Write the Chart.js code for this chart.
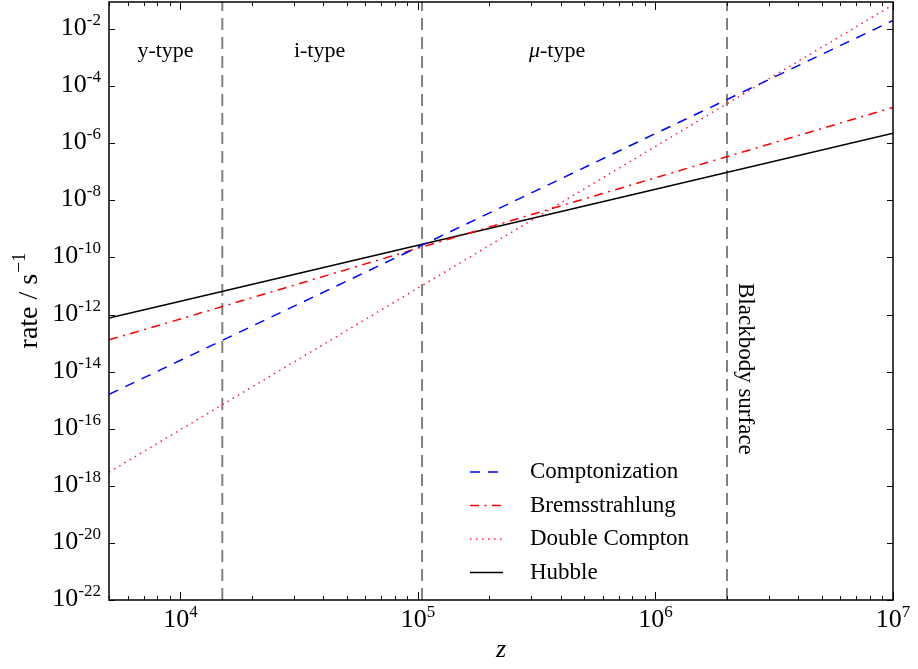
<!DOCTYPE html>
<html>
<head>
<meta charset="utf-8">
<script src="https://cdn.jsdelivr.net/npm/chart.js@4"></script>
<style>
    html, body { margin: 0; padding: 0; background: #fff; }
    #wrap { width: 918px; height: 669px; }
</style>
</head>
<body>
<div id="wrap"><canvas id="rates" width="918" height="669"></canvas></div>
<script>
// redshift samples (all rates are power laws, so a few points per curve)
const zPoints = [5000, 1e4, 1e5, 1e6, 1e7]

// rates in 1/s
const comptonization = [1.6e-15, 2.5e-14, 2.3e-10, 2.2e-6, 2.0e-2]
const bremsstrahlung = [1.3e-13, 7.0e-13, 2.1e-10, 6.2e-8, 1.8e-5]
const doubleCompton  = [3.0e-18, 9.3e-17, 8.5e-12, 7.8e-7, 7.1e-2]
const hubble         = [7.6e-13, 2.95e-12, 2.7e-10, 2.45e-8, 2.24e-6]

// era boundaries
const boundaries = [1.5e4, 1.04e5, 2e6]
const eraNames   = ['y-type', 'i-type', 'type']
const eraCenters = [8650, 3.85e4, 3.85e5]

const xTickExps = [4, 5, 6, 7]
const yTickExps = [-22, -20, -18, -16, -14, -12, -10, -8, -6, -4, -2]

const zMin = 5000, zMax = 1e7
const rateMin = 1e-22, rateMax = Math.pow(10, -1.05)

const SERIF = '"Liberation Serif", "DejaVu Serif", serif'

const series = [
    { label: 'Comptonization', data: comptonization, color: '#0000ff', dash: [10, 8] },
    { label: 'Bremsstrahlung', data: bremsstrahlung, color: '#ff0000', dash: [9, 5.5, 2, 5.5] },
    { label: 'Double Compton', data: doubleCompton,  color: '#ff1a3c', dash: [1.5, 4.5] },
    { label: 'Hubble',         data: hubble,         color: '#000000', dash: [] },
]

const datasets = series.map(s => ({
    label: s.label,
    data: zPoints.map((z, i) => ({ x: z, y: s.data[i] })),
    borderColor: s.color,
    borderDash: s.dash,
    borderWidth: 1.5,
    showLine: true,
    pointRadius: 0,
    fill: false,
}))

for (const b of boundaries) {
    datasets.push({
        label: 'boundary',
        data: [{ x: b, y: rateMin }, { x: b, y: rateMax }],
        borderColor: '#808080',
        borderDash: [12, 7],
        borderWidth: 2,
        showLine: true,
        pointRadius: 0,
    })
}

function drawPower(ctx, exp, x, y, align) {
    const base = '10', sup = String(exp)
    ctx.font = `26px ${SERIF}`
    const wb = ctx.measureText(base).width
    ctx.font = `17px ${SERIF}`
    const ws = ctx.measureText(sup).width
    let x0 = x
    if (align === 'right') x0 = x - wb - ws
    if (align === 'center') x0 = x - (wb + ws) / 2
    ctx.textAlign = 'left'
    ctx.textBaseline = 'alphabetic'
    ctx.font = `26px ${SERIF}`
    ctx.fillText(base, x0, y)
    ctx.font = `17px ${SERIF}`
    ctx.fillText(sup, x0 + wb, y - 10)
}

const axesPlugin = {
    id: 'axesPlugin',
    afterDraw(chart) {
        const { ctx, chartArea: a, scales: { x, y } } = chart
        ctx.save()
        ctx.fillStyle = '#000'
        ctx.strokeStyle = '#000'

        // frame
        ctx.lineWidth = 1.5
        ctx.strokeRect(a.left, a.top, a.right - a.left, a.bottom - a.top)

        // x ticks, inward on bottom and top
        ctx.lineWidth = 1
        for (let d = 3; d <= 7; d++) {
            for (let m = 1; m <= 9; m++) {
                const v = m * Math.pow(10, d)
                if (v < zMin || v > zMax) continue
                const px = Math.round(x.getPixelForValue(v)) + 0.5
                const len = m === 1 ? 8 : 4
                ctx.beginPath()
                ctx.moveTo(px, a.bottom); ctx.lineTo(px, a.bottom - len)
                ctx.moveTo(px, a.top);    ctx.lineTo(px, a.top + len)
                ctx.stroke()
            }
        }
        // y ticks, inward on left and right
        for (const e of yTickExps) {
            const py = Math.round(y.getPixelForValue(Math.pow(10, e))) + 0.5
            ctx.beginPath()
            ctx.moveTo(a.left, py);  ctx.lineTo(a.left + 6, py)
            ctx.moveTo(a.right, py); ctx.lineTo(a.right - 6, py)
            ctx.stroke()
        }

        // tick labels
        for (const e of xTickExps) {
            drawPower(ctx, e, x.getPixelForValue(Math.pow(10, e)), a.bottom + 27, 'center')
        }
        for (const e of yTickExps) {
            drawPower(ctx, e, a.left - 8, y.getPixelForValue(Math.pow(10, e)) + 6, 'right')
        }

        // axis titles
        ctx.font = `italic 26px ${SERIF}`
        ctx.textAlign = 'center'
        ctx.fillText('z', (a.left + a.right) / 2, 657)

        ctx.save()
        ctx.translate(37, (a.top + a.bottom) / 2)
        ctx.rotate(-Math.PI / 2)
        ctx.font = `28px ${SERIF}`
        const main = 'rate / s'
        const wm = ctx.measureText(main).width
        ctx.font = `19px ${SERIF}`
        const wsup = ctx.measureText('\u22121').width
        ctx.textAlign = 'left'
        ctx.font = `28px ${SERIF}`
        ctx.fillText(main, -(wm + wsup) / 2, 0)
        ctx.font = `19px ${SERIF}`
        ctx.fillText('\u22121', -(wm + wsup) / 2 + wm + 1, -12)
        ctx.restore()

        // era labels
        ctx.textAlign = 'center'
        eraNames.forEach((name, i) => {
            const cx = x.getPixelForValue(eraCenters[i])
            if (i === 2) {
                ctx.font = `italic 22px ${SERIF}`
                const wmu = ctx.measureText('\u03bc').width
                ctx.font = `22px ${SERIF}`
                const wt = ctx.measureText('-' + name).width
                ctx.textAlign = 'left'
                ctx.font = `italic 22px ${SERIF}`
                ctx.fillText('\u03bc', cx - (wmu + wt) / 2, 57)
                ctx.font = `22px ${SERIF}`
                ctx.fillText('-' + name, cx - (wmu + wt) / 2 + wmu, 57)
                ctx.textAlign = 'center'
            } else {
                ctx.font = `22px ${SERIF}`
                ctx.fillText(name, cx, 57)
            }
        })

        // blackbody surface label
        ctx.save()
        ctx.translate(745, 283)
        ctx.rotate(Math.PI / 2)
        ctx.font = `23px ${SERIF}`
        ctx.textAlign = 'left'
        ctx.textBaseline = 'middle'
        ctx.fillText('Blackbody surface', 0, 0)
        ctx.restore()

        // legend
        ctx.font = `23px ${SERIF}`
        ctx.textAlign = 'left'
        ctx.textBaseline = 'middle'
        series.forEach((s, i) => {
            const ly = 472 + i * 33.5
            ctx.strokeStyle = s.color
            ctx.lineWidth = 1.5
            ctx.setLineDash(s.dash)
            ctx.beginPath()
            ctx.moveTo(470, ly); ctx.lineTo(503, ly)
            ctx.stroke()
            ctx.setLineDash([])
            ctx.fillStyle = '#000'
            ctx.fillText(s.label, 530, ly)
        })
        ctx.restore()
    }
}

new Chart(document.getElementById('rates'), {
    type: 'scatter',
    data: { datasets },
    options: {
        responsive: false,
        animation: false,
        layout: { padding: { left: 109, right: 25, top: 2, bottom: 69 } },
        scales: {
            x: { type: 'logarithmic', min: zMin, max: zMax, display: false },
            y: { type: 'logarithmic', min: rateMin, max: rateMax, display: false },
        },
        plugins: { legend: { display: false }, tooltip: { enabled: false } },
    },
    plugins: [axesPlugin],
})
</script>
</body>
</html>
